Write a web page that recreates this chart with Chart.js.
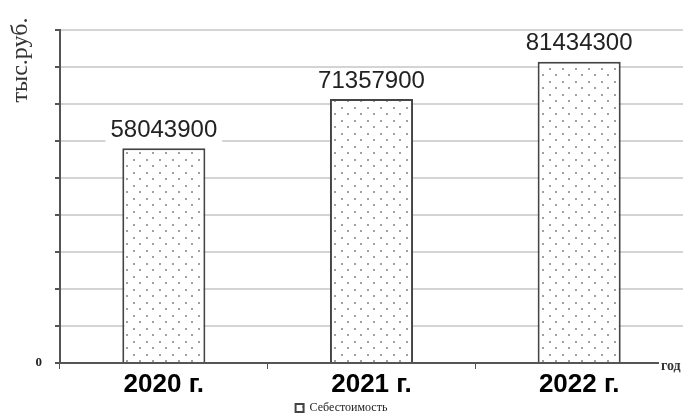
<!DOCTYPE html>
<html lang="ru">
<head>
  <meta charset="UTF-8">
  <title>Себестоимость</title>
  <script src="https://cdn.jsdelivr.net/npm/chart.js"></script>
  <style>
    html, body { margin: 0; padding: 0; background: #fff; }
    #wrap { width: 687px; height: 414px; }
  </style>
</head>
<body>
  <div id="wrap"><canvas id="chart" width="687" height="414"></canvas></div>
  <script>
    const labels = ['2020 г.', '2021 г.', '2022 г.'];
    const costValues = [58043900, 71357900, 81434300];
    const seriesName = 'Себестоимость';
    const yTitle = 'тыс.руб.';
    const xTitle = 'год';

    // dotted fill like the original
    function dotPattern() {
      const c = document.createElement('canvas');
      c.width = 13; c.height = 13;
      const g = c.getContext('2d');
      g.fillStyle = '#fff';
      g.fillRect(0, 0, 13, 13);
      g.fillStyle = '#a0a0a0';
      g.fillRect(3, 3, 2, 2);
      g.fillRect(9, 9, 2, 2);
      return g.createPattern(c, 'repeat');
    }

    const extras = {
      id: 'extras',
      afterDatasetsDraw(chart) {
        const ctx = chart.ctx;
        const meta = chart.getDatasetMeta(0);
        ctx.save();
        ctx.font = '24px "Liberation Sans", Arial, sans-serif';
        ctx.textAlign = 'center';
        ctx.textBaseline = 'middle';
        meta.data.forEach((bar, i) => {
          const txt = String(costValues[i]);
          const w = ctx.measureText(txt).width + 10;
          const y = bar.y - 18;
          ctx.fillStyle = '#fff';
          ctx.fillRect(bar.x - w / 2, y - 12, w, 24);
          ctx.fillStyle = '#222';
          ctx.fillText(txt, bar.x, y);
        });
        ctx.restore();
      },
      afterDraw(chart) {
        const ctx = chart.ctx;
        const area = chart.chartArea;
        ctx.save();
        ctx.fillStyle = '#333';
        ctx.font = '24px "Liberation Serif", "DejaVu Serif", serif';
        ctx.translate(21, 60);
        ctx.rotate(-Math.PI / 2);
        ctx.textAlign = 'center';
        ctx.textBaseline = 'middle';
        ctx.fillText(yTitle, 0, 0);
        ctx.restore();

        // axis name sits at the end of the x axis
        ctx.save();
        ctx.font = 'bold 14px "Liberation Serif", serif';
        ctx.fillStyle = '#fff';
        ctx.fillRect(659, area.bottom - 2, chart.width - 659, 16);
        ctx.fillStyle = '#333';
        ctx.textAlign = 'left';
        ctx.textBaseline = 'middle';
        ctx.fillText(xTitle, 661, area.bottom + 3);
        ctx.restore();
      }
    };

    new Chart(document.getElementById('chart'), {
      type: 'bar',
      data: {
        labels: labels,
        datasets: [{
          label: seriesName,
          data: costValues,
          backgroundColor: dotPattern(),
          borderColor: '#444',
          borderWidth: 2,
          borderSkipped: 'bottom',
          categoryPercentage: 1,
          barPercentage: 0.4
        }]
      },
      options: {
        responsive: false,
        animation: false,
        layout: { padding: { top: 30, right: 4, left: 0, bottom: -10 } },
        plugins: {
          legend: {
            position: 'bottom',
            labels: {
              font: { family: '"Liberation Serif", serif', size: 12 },
              color: '#222',
              boxWidth: 8,
              boxHeight: 8,
              padding: 0
            }
          },
          tooltip: { enabled: false }
        },
        scales: {
          x: {
            grid: { display: true, drawOnChartArea: false, tickLength: 6, color: '#555', lineWidth: 1 },
            border: { color: '#555', width: 2 },
            ticks: {
              color: '#000',
              font: { family: '"Liberation Sans", Arial, sans-serif', size: 26, weight: 'bold' },
              padding: 0
            },
            afterFit: s => { s.height = 39; }
          },
          y: {
            min: 0,
            max: 90000000,
            ticks: {
              stepSize: 10000000,
              callback: v => (v === 0 ? '0' : ''),
              color: '#222',
              font: { family: '"Liberation Serif", serif', size: 13, weight: 'bold' },
              padding: 13
            },
            grid: { color: '#d4d4d4', lineWidth: 2, tickLength: 5, tickColor: '#555' },
            border: { color: '#555', width: 2 },
            afterFit: s => { s.width = 60; }
          }
        }
      },
      plugins: [extras]
    });
  </script>
</body>
</html>
